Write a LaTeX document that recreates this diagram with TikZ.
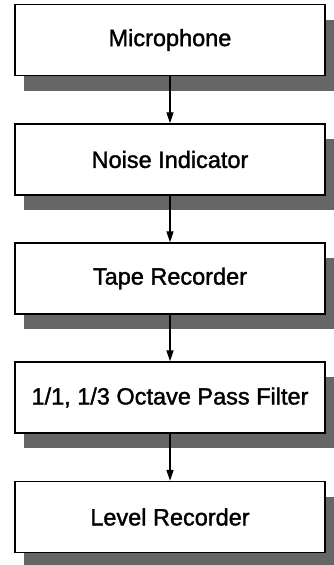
\documentclass[tikz,border=0pt]{standalone}
\usepackage{fontspec}
\setmainfont{Liberation Sans}[FakeBold=1.5]
\usetikzlibrary{arrows.meta,shadows}
\begin{document}
\begin{tikzpicture}[x=1pt,y=-1pt,
  stagebox/.style={draw=black, line width=1.4pt, fill=white, rectangle,
    minimum width=310pt, minimum height=71pt, inner sep=0pt,
    font=\fontsize{23.5}{26}\selectfont,
    drop shadow={shadow xshift=9pt, shadow yshift=-15pt, fill=black!60, opacity=1, draw=none}},
  flow/.style={line width=1.2pt, -{Triangle[width=7pt,length=11pt]}}]
\useasboundingbox (0,0) rectangle (333,565);
\node[stagebox] (mic) at (170,40) {Microphone};
\node[stagebox] (noise) at (170,159.5) {Noise Indicator};
\node[stagebox] (tape) at (170,278.5) {Tape Recorder};
\node[stagebox] (filter) at (170,397.5) {1/1, 1/3 Octave Pass Filter};
\node[stagebox] (level) at (170,517) {Level Recorder};
\draw[flow] (mic.south) -- (noise.north);
\draw[flow] (noise.south) -- (tape.north);
\draw[flow] (tape.south) -- (filter.north);
\draw[flow] (filter.south) -- (level.north);
\end{tikzpicture}
\end{document}
